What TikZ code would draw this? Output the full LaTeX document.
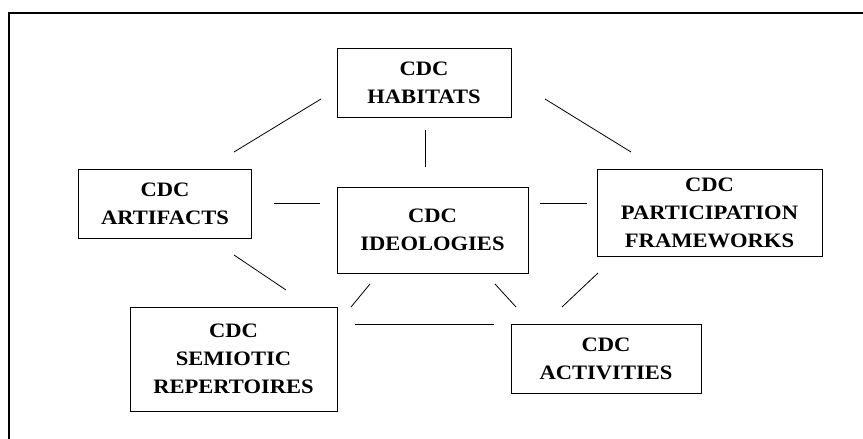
\documentclass[tikz,border=0pt]{standalone}
\usepackage{fontspec}
\setmainfont{Liberation Serif}[FakeStretch=1.1]
\tikzset{
  cdcbox/.style={draw, line width=0.9pt, align=center, inner sep=0pt,
    font=\fontsize{20.5}{28}\selectfont\bfseries},
  link/.style={line width=0.8pt}
}
\begin{document}
\begin{tikzpicture}[x=1pt, y=-1pt]
\useasboundingbox (0,0) rectangle (863,439);
\draw [line width=1.2pt] (9,470) -- (9,13) -- (890,13);
\node [cdcbox, minimum width=174pt, minimum height=69pt] (hab) at (424,82.5) {CDC\\HABITATS};
\node [cdcbox, minimum width=172.5pt, minimum height=69pt] (art) at (165,203.5) {CDC\\ARTIFACTS};
\node [cdcbox, minimum width=191pt, minimum height=86pt] (ideo) at (432.5,230) {CDC\\IDEOLOGIES};
\node [cdcbox, minimum width=225pt, minimum height=87pt] (part) at (709.5,212.5) {CDC\\PARTICIPATION\\FRAMEWORKS};
\node [cdcbox, minimum width=207pt, minimum height=104pt] (sem) at (233.5,359) {CDC\\SEMIOTIC\\REPERTOIRES};
\node [cdcbox, minimum width=190pt, minimum height=69pt] (act) at (606,358.5) {CDC\\ACTIVITIES};
\coordinate (ha1) at (321,99);
\coordinate (ha2) at (234,152);
\coordinate (hi1) at (425,130);
\coordinate (hi2) at (425,167);
\coordinate (hp1) at (545,99);
\coordinate (hp2) at (631,152);
\coordinate (ai1) at (274,203);
\coordinate (ai2) at (320,203);
\coordinate (ip1) at (540,203);
\coordinate (ip2) at (587,203);
\coordinate (as1) at (234,255);
\coordinate (as2) at (286,290);
\coordinate (is1) at (370,284);
\coordinate (is2) at (351,307);
\coordinate (ic1) at (495,284);
\coordinate (ic2) at (516,307);
\coordinate (pc1) at (598,273);
\coordinate (pc2) at (562,307);
\coordinate (sc1) at (355,324);
\coordinate (sc2) at (494,324);
\draw [link] (ha1) -- (ha2);
\draw [link] (hi1) -- (hi2);
\draw [link] (hp1) -- (hp2);
\draw [link] (ai1) -- (ai2);
\draw [link] (ip1) -- (ip2);
\draw [link] (as1) -- (as2);
\draw [link] (is1) -- (is2);
\draw [link] (ic1) -- (ic2);
\draw [link] (pc1) -- (pc2);
\draw [link] (sc1) -- (sc2);
\end{tikzpicture}
\end{document}
